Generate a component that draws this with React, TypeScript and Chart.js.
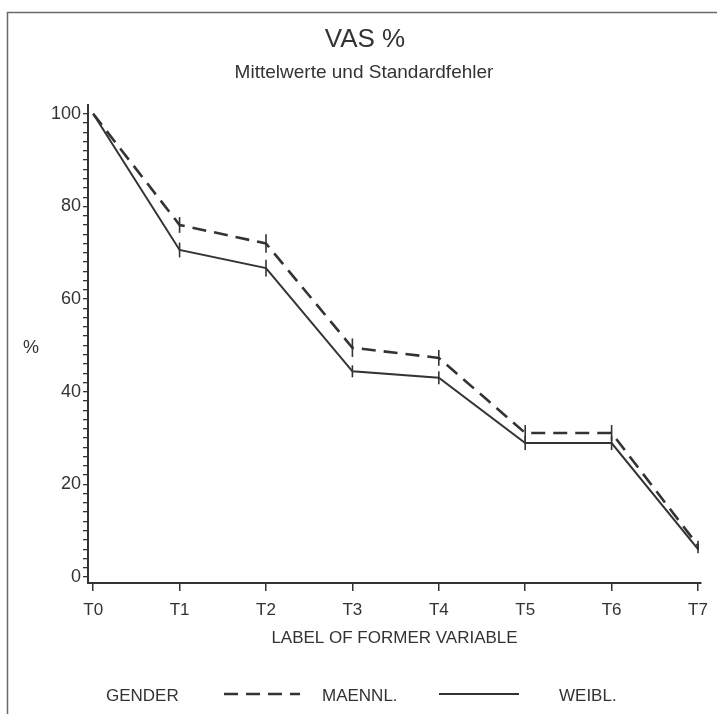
import { useEffect, useRef } from "react";
import { Chart, registerables } from "chart.js";

Chart.register(...registerables);

// Measurement times
const timepoints = ["T0", "T1", "T2", "T3", "T4", "T5", "T6", "T7"];

// VAS % means and standard errors by gender
const maleMean = [100, 76.0, 72.0, 49.5, 47.3, 31.1, 31.1, 6.8];
const maleSE = [0, 1.7, 2.0, 2.0, 1.7, 1.7, 1.7, 1.0];
const femaleMean = [100, 70.6, 66.7, 44.4, 43.0, 28.9, 28.9, 6.0];
const femaleSE = [0, 1.6, 1.8, 1.3, 1.4, 1.5, 1.5, 0.9];

// Labelled y values and minor tick spacing
const yLabelValues = [0, 20, 40, 60, 80, 100];
const yMinorStep = 2;

const titleText = "VAS %";
const subtitleText = "Mittelwerte und Standardfehler";
const yAxisLabel = "%";
const xAxisLabel = "LABEL OF FORMER VARIABLE";
const legendTitle = "GENDER";

const INK = "#333333";
const FONT = "'Liberation Sans', Arial, sans-serif";

const seByDataset = [maleSE, femaleSE];

const decorPlugin = {
  id: "decor",
  beforeDraw(chart: any) {
    const { ctx, width, height } = chart;
    ctx.save();
    ctx.fillStyle = "#ffffff";
    ctx.fillRect(0, 0, width, height);
    // frame (top and left edges)
    ctx.strokeStyle = "#6a6a6a";
    ctx.lineWidth = 1.5;
    ctx.beginPath();
    ctx.moveTo(7.5, height);
    ctx.lineTo(7.5, 12.5);
    ctx.lineTo(width, 12.5);
    ctx.stroke();
    ctx.restore();
  },
  afterDatasetsDraw(chart: any) {
    const { ctx } = chart;
    const yScale = chart.scales.y;
    ctx.save();
    ctx.strokeStyle = INK;
    ctx.lineWidth = 1.6;
    chart.data.datasets.forEach((ds: any, di: number) => {
      const meta = chart.getDatasetMeta(di);
      const se = seByDataset[di];
      meta.data.forEach((pt: any, i: number) => {
        const v = ds.data[i].y;
        if (!se[i]) return;
        const y1 = yScale.getPixelForValue(v + se[i]);
        const y2 = yScale.getPixelForValue(v - se[i]);
        ctx.beginPath();
        ctx.moveTo(pt.x, y1);
        ctx.lineTo(pt.x, y2);
        ctx.stroke();
      });
    });
    ctx.restore();
  },
  afterDraw(chart: any) {
    const { ctx } = chart;
    ctx.save();
    ctx.fillStyle = INK;
    ctx.textBaseline = "middle";
    ctx.textAlign = "center";
    ctx.font = `26px ${FONT}`;
    ctx.fillText(titleText, 365, 40);
    ctx.font = `19px ${FONT}`;
    ctx.fillText(subtitleText, 364, 73);

    ctx.font = `18px ${FONT}`;
    ctx.fillText(yAxisLabel, 31, 348);

    // legend row
    const ly = 696;
    ctx.font = `17px ${FONT}`;
    ctx.textAlign = "left";
    ctx.fillText(legendTitle, 106, ly);
    const items = [
      { x0: 224, x1: 300, tx: 322 },
      { x0: 439, x1: 519, tx: 559 },
    ];
    chart.data.datasets.forEach((ds: any, i: number) => {
      const it = items[i];
      ctx.strokeStyle = ds.borderColor;
      ctx.lineWidth = ds.borderWidth;
      ctx.setLineDash(ds.borderDash || []);
      ctx.beginPath();
      ctx.moveTo(it.x0, ly - 2);
      ctx.lineTo(it.x1, ly - 2);
      ctx.stroke();
      ctx.setLineDash([]);
      ctx.fillText(ds.label, it.tx, ly);
    });
    ctx.restore();
  },
};

export default function App() {
  const canvasRef = useRef<HTMLCanvasElement | null>(null);

  useEffect(() => {
    const canvas = canvasRef.current;
    if (!canvas) return;

    const chart = new Chart(canvas, {
      type: "line",
      data: {
        datasets: [
          {
            label: "MAENNL.",
            data: maleMean.map((y, i) => ({ x: i, y })),
            borderColor: INK,
            borderWidth: 2.6,
            borderDash: [14, 8],
            pointRadius: 0,
            tension: 0,
            fill: false,
          },
          {
            label: "WEIBL.",
            data: femaleMean.map((y, i) => ({ x: i, y })),
            borderColor: INK,
            borderWidth: 2,
            pointRadius: 0,
            tension: 0,
            fill: false,
          },
        ],
      },
      options: {
        responsive: false,
        animation: false,
        devicePixelRatio: 1,
        layout: { padding: { top: 105, right: 14, left: 0, bottom: 0 } },
        plugins: {
          legend: { display: false },
          tooltip: { enabled: false },
          title: { display: false },
        },
        scales: {
          x: {
            type: "linear",
            min: -0.06,
            max: 7.035,
            afterBuildTicks: (s: any) => {
              s.ticks = timepoints.map((_, i) => ({ value: i }));
            },
            afterFit: (s: any) => {
              s.height = 131;
            },
            ticks: {
              callback: (v: any) => timepoints[v as number] ?? "",
              font: { family: FONT, size: 17 },
              color: INK,
              padding: 9,
              autoSkip: false,
              maxRotation: 0,
            },
            grid: {
              drawOnChartArea: false,
              drawTicks: true,
              tickLength: 8,
              color: INK,
              lineWidth: 1.5,
            },
            border: { color: INK, width: 2 },
            title: {
              display: true,
              text: xAxisLabel,
              font: { family: FONT, size: 17 },
              color: INK,
              padding: { top: 0, bottom: 65 },
            },
          },
          y: {
            type: "linear",
            min: -1.3,
            max: 101.9,
            afterBuildTicks: (s: any) => {
              const t: { value: number }[] = [];
              const top = yLabelValues[yLabelValues.length - 1];
              for (let v = yLabelValues[0]; v <= top; v += yMinorStep) t.push({ value: v });
              s.ticks = t;
            },
            afterFit: (s: any) => {
              s.width = 88;
            },
            ticks: {
              callback: (v: any) => (yLabelValues.includes(v as number) ? String(v) : ""),
              font: { family: FONT, size: 18 },
              color: INK,
              padding: 2,
              autoSkip: false,
            },
            grid: {
              drawOnChartArea: false,
              drawTicks: true,
              tickLength: 5,
              color: INK,
              lineWidth: 1.3,
            },
            border: { color: INK, width: 2 },
          },
        },
      },
      plugins: [decorPlugin],
    });

    return () => chart.destroy();
  }, []);

  return (
    <div style={{ position: "absolute", left: 0, top: 0, width: 717, height: 714 }}>
      <canvas ref={canvasRef} width={717} height={714} style={{ display: "block" }} />
    </div>
  );
}
